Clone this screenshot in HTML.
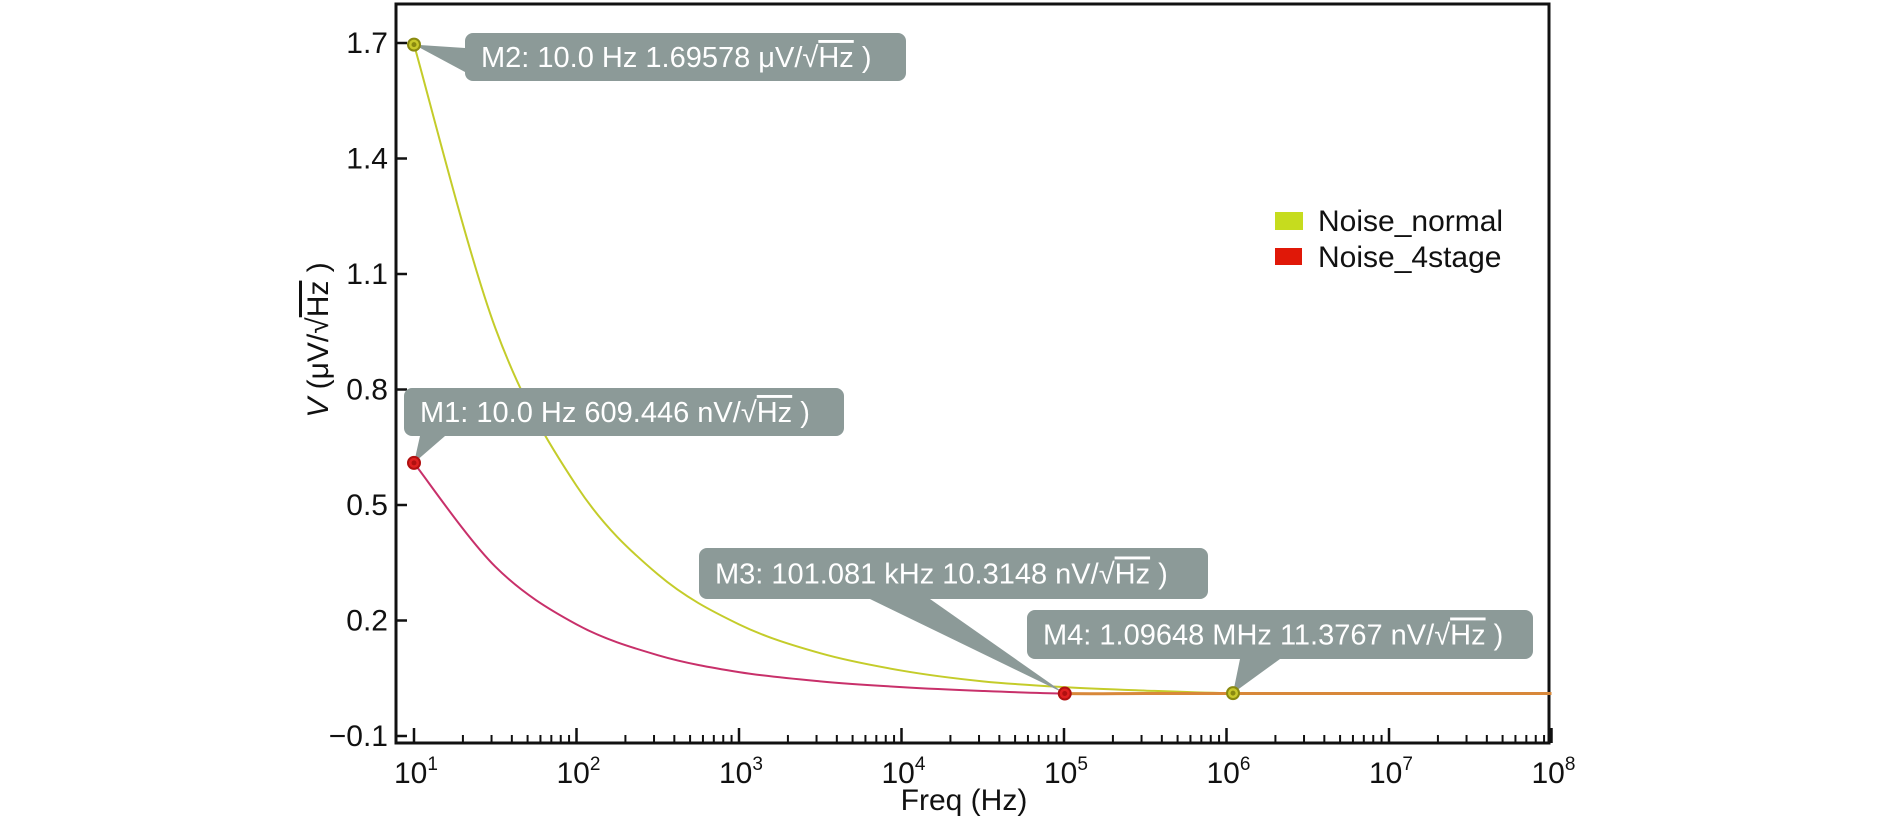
<!DOCTYPE html>
<html><head><meta charset="utf-8"><style>
body{margin:0;background:#fff;}
svg{display:block;font-family:"Liberation Sans",sans-serif;}
</style></head><body>
<svg id="chart" width="1890" height="827" viewBox="0 0 1890 827" xmlns="http://www.w3.org/2000/svg">
<g id="axes"></g>
<g id="series"></g>
<g id="callouts"></g>
<text transform="translate(328,340) rotate(-90)" text-anchor="middle" font-size="30" fill="#111"><tspan font-style="italic">V</tspan> (μV/√<tspan text-decoration="overline">Hz</tspan> )</text>
<text x="964" y="810" text-anchor="middle" font-size="30" fill="#111">Freq (Hz)</text>
<g>
<rect x="1275" y="212" width="28" height="18" fill="#c6dc1e"/>
<text x="1318" y="231" font-size="30" fill="#111">Noise_normal</text>
<rect x="1275" y="248" width="27" height="17" fill="#e01808"/>
<text x="1318" y="267" font-size="30" fill="#111">Noise_4stage</text>
</g>
</svg>
<script>
const logFreqNormal=[1,1.5,2,2.5,3,3.5,4,4.5,5,5.5,6,6.5,7,8];
const valuesNormal=[1.696,0.96,0.55,0.32,0.19,0.115,0.07,0.042,0.027,0.018,0.0114,0.0108,0.0105,0.0105];
const logFreq4stage=[1,1.5,2,2.5,3,3.5,4,4.5,5,5.5,6,7,8];
const values4stage=[0.609,0.34,0.19,0.11,0.066,0.042,0.027,0.017,0.0103,0.0104,0.0105,0.0105,0.0105];
const yTicks=[1.7,1.4,1.1,0.8,0.5,0.2,-0.1];
const yTickLabels=["1.7","1.4","1.1","0.8","0.5","0.2","\u22120.1"];
const xDecades=[1,2,3,4,5,6,7,8];
const markerLabels=["M1: 10.0 Hz 609.446 nV/","M2: 10.0 Hz 1.69578 μV/","M3: 101.081 kHz 10.3148 nV/","M4: 1.09648 MHz 11.3767 nV/"];
const markerLogF=[1,1,5.0046,6.04];
const markerVals=[0.609446,1.69578,0.0103148,0.0113767];

const NS="http://www.w3.org/2000/svg";
const X0=396,X1=1549,Y0=4,Y1=743;
function xs(lf){return 414+(lf-1)*162.5;}
function ys(v){return 736-(v+0.1)*385;}
function mk(tag,attrs,parent){const e=document.createElementNS(NS,tag);for(const k in attrs)e.setAttribute(k,attrs[k]);parent.appendChild(e);return e;}
const axes=document.getElementById('axes');
const frame=mk('path',{d:`M${X0},${Y0}H${X1}V${Y1}H${X0}Z`,fill:'none',stroke:'#111','stroke-width':3},axes);


yTicks.forEach((t,i)=>{
  const y=ys(t);
  const l=mk('line',{x1:X0,x2:X0+11,y1:y,y2:y,stroke:'#111','stroke-width':2.5},axes);
  
  
  const tx=mk('text',{x:X0-8,y:y+10,'text-anchor':'end','font-size':30,fill:'#111'},axes);
  
  
  tx.textContent=yTickLabels[i];
});
xDecades.forEach((d)=>{
  const x=xs(d);
  const l=mk('line',{x1:x,x2:x,y1:Y1,y2:Y1-15,stroke:'#111','stroke-width':2.5},axes);
  
  
  const tx=mk('text',{x:x-20,y:Y1+40,'font-size':30,fill:'#111'},axes);
  
  
  tx.innerHTML='10<tspan dy="-13" font-size="19">'+d+'</tspan>';
  if(d<8){for(let m=2;m<=9;m++){const xm=xs(d+Math.log10(m));
    const t=mk('line',{x1:xm,x2:xm,y1:Y1,y2:Y1-8,stroke:'#111','stroke-width':2},axes);
    
    }}
});
function smoothPath(lx,vals,from,to){
  const P=lx.map((v,i)=>[xs(v),ys(vals[i])]);let d='';
  for(let i=from;i<to;i++){const p0=P[Math.max(i-1,0)],p1=P[i],p2=P[i+1],p3=P[Math.min(i+2,P.length-1)];
    if(i===from)d+=`M${p1[0]},${p1[1]}`;
    d+=`C${p1[0]+(p2[0]-p0[0])/6},${p1[1]+(p2[1]-p0[1])/6} ${p2[0]-(p3[0]-p1[0])/6},${p2[1]-(p3[1]-p1[1])/6} ${p2[0]},${p2[1]}`;}
  return d;}
const ser=document.getElementById('series');
const s1=mk('path',{d:smoothPath(logFreqNormal,valuesNormal,0,logFreqNormal.length-1),fill:'none',stroke:'#c4cc2a','stroke-width':2},ser);


const i5=logFreq4stage.indexOf(5);
const s2=mk('path',{d:smoothPath(logFreq4stage,values4stage,0,i5),fill:'none',stroke:'#c8306a','stroke-width':2},ser);


const s3=mk('path',{d:smoothPath(logFreq4stage,values4stage,i5,logFreq4stage.length-1),fill:'none',stroke:'#d8883a','stroke-width':3},ser);


const boxes=[[404,388,440,48],[465,33,441,48],[699,548,509,51],[1027,610,506,49]];
const ptr=[[[420,436],[445,436]],[[465,48],[465,72]],[[870,599],[930,599]],[[1240,659],[1280,659]]];
const mcol=[['#e02020','#b01010'],['#c8c82a','#8a8a10'],['#e02020','#b01010'],['#c8c82a','#8a8a10']];
const co=document.getElementById('callouts');
markerLabels.forEach((lab,i)=>{
  const mx=xs(markerLogF[i]),my=ys(markerVals[i]);const b=boxes[i],p=ptr[i];
  const g=mk('g',{},co);
  
  
  mk('polygon',{points:`${p[0][0]},${p[0][1]} ${p[1][0]},${p[1][1]} ${mx},${my}`,fill:'#8c9a98'},g);
  mk('rect',{x:b[0],y:b[1],width:b[2],height:b[3],rx:8,fill:'#8c9a98'},g);
  const t=mk('text',{x:b[0]+16,y:b[1]+b[3]/2+10,'font-size':29,fill:'#fff'},g);
  t.innerHTML=lab+'√<tspan text-decoration="overline">Hz</tspan> )';
  const c=mk('circle',{cx:mx,cy:my,r:6,fill:mcol[i][0],stroke:mcol[i][1],'stroke-width':2},g);
  
  
  mk('circle',{cx:mx,cy:my,r:2.5,fill:mcol[i][1]},g);
});
</script>
</body></html>
